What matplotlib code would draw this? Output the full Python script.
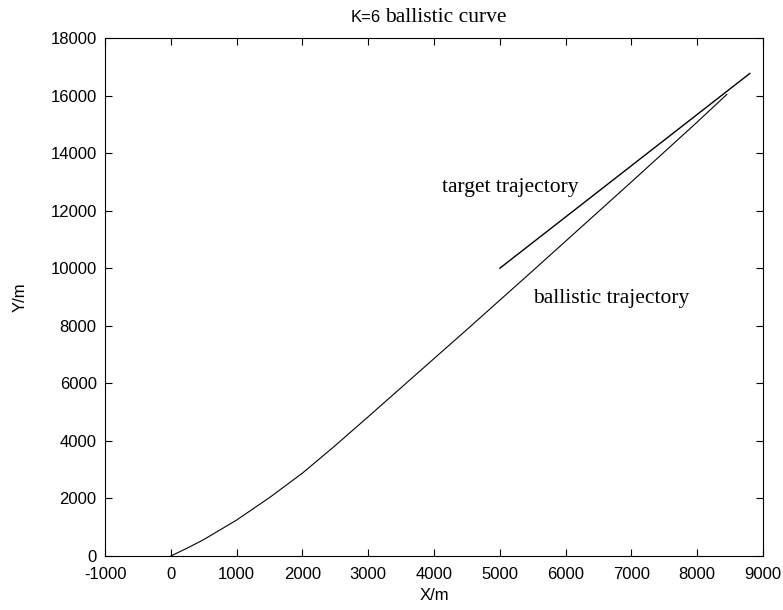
import matplotlib
matplotlib.use("Agg")
import matplotlib.pyplot as plt
import numpy as np

# ballistic trajectory
ballistic_x = [0, 250, 500, 1000, 1500, 2000, 2500, 3000, 3500, 4000,
               4500, 5000, 5500, 6000, 6500, 7000, 7500, 8000, 8450]
ballistic_y = [0, 275, 570, 1250, 2030, 2880, 3840, 4840, 5850, 6860,
               7870, 8890, 9910, 10940, 11970, 13000, 14040, 15080, 16040]

# target trajectory (straight line)
target_x = [5000, 8800]
target_y = [10000, 16770]

xticks = np.arange(-1000, 9001, 1000)
yticks = np.arange(0, 18001, 2000)

SANS = "Liberation Sans"
SERIF = "Liberation Serif"

fig = plt.figure(figsize=(7.83, 6.10), dpi=100)
ax = fig.add_axes([0.1341, 0.0885, 0.8404, 0.8492])

ax.plot(ballistic_x, ballistic_y, color="black", linewidth=0.8)
ax.plot(target_x, target_y, color="black", linewidth=1.0)

ax.set_xlim(-1000, 9000)
ax.set_ylim(0, 18000)
ax.set_xticks(xticks)
ax.set_yticks(yticks)
ax.set_xticklabels([str(v) for v in xticks], fontsize=12, family=SANS)
ax.set_yticklabels([str(v) for v in yticks], fontsize=12, family=SANS)
ax.tick_params(direction="in", length=5, width=0.8, top=True, right=True)
ax.tick_params(axis="x", pad=8)
ax.tick_params(axis="y", pad=6)
for s in ax.spines.values():
    s.set_linewidth(0.8)

ax.set_xlabel("X/m", fontsize=12, family=SANS, labelpad=4)
ax.set_ylabel("Y/m", fontsize=12, family=SANS, labelpad=16)

ax.text(4120, 12800, "target trajectory", fontsize=15.5, family=SERIF,
        va="center", ha="left")
ax.text(5500, 8950, "ballistic trajectory", fontsize=15.5, family=SERIF,
        va="center", ha="left")

# title: "K=6" in sans, "ballistic curve" in serif
fig.text(351 / 783, 1 - 17 / 610, "K=6", fontsize=12, family=SANS,
         va="center", ha="left")
fig.text(385 / 783, 1 - 17 / 610, "ballistic curve", fontsize=15.5,
         family=SERIF, va="center", ha="left")

fig.savefig("out.png", dpi=100)
